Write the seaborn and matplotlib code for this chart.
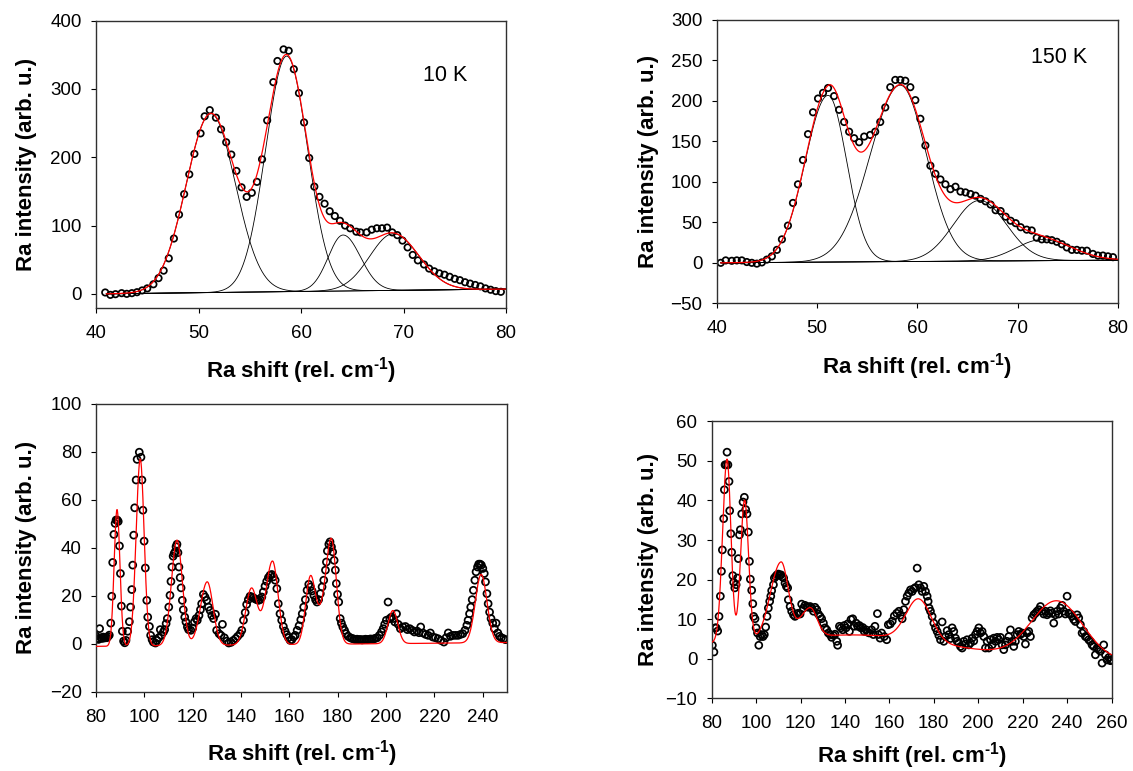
import numpy as np
import pandas as pd
import matplotlib
matplotlib.use("Agg")
import matplotlib.pyplot as plt
import seaborn as sns

sns.set_theme(style="ticks")
plt.rcParams['font.family'] = ['Liberation Sans', 'DejaVu Sans']
plt.rcParams['mathtext.fontset'] = 'custom'
plt.rcParams['mathtext.rm'] = 'Liberation Sans:bold'
plt.rcParams['mathtext.bf'] = 'Liberation Sans:bold'
plt.rcParams['mathtext.it'] = 'Liberation Sans:italic'

# ------------------------------------------------------------------ data
# Top-left panel (10 K), low-frequency region
tl_x = [40.9, 41.4, 41.9, 42.5, 43.0, 43.5, 44.0, 44.5, 45.0, 45.6,
        46.1, 46.6, 47.1, 47.6, 48.1, 48.6, 49.1, 49.6, 50.2, 50.6,
        51.1, 51.7, 52.2, 52.7, 53.2, 53.7, 54.2, 54.7, 55.2, 55.7,
        56.2, 56.7, 57.3, 57.7, 58.3, 58.8, 59.3, 59.8, 60.3, 60.8,
        61.3, 61.8, 62.3, 62.8, 63.3, 63.8, 64.3, 64.8, 65.4, 65.8,
        66.4, 66.9, 67.4, 67.9, 68.4, 68.9, 69.4, 69.9, 70.4, 70.9,
        71.4, 72.0, 72.5, 73.0, 73.5, 74.0, 74.5, 75.0, 75.5, 76.0,
        76.5, 77.0, 77.5, 78.0, 78.5, 79.0, 79.5]
tl_y = [2, -1.5, -0.5, 1, 0, 1, 2.4, 5, 8, 14,
        23, 34, 52, 81, 116, 146, 175, 205, 235, 260,
        269, 258, 241, 222, 204, 180, 156, 142, 148, 164,
        197, 254, 310, 341, 358, 356, 329, 294, 251, 199,
        157, 142, 132, 121, 114, 107, 100, 96, 91, 90,
        90, 94, 96, 96, 97, 90, 86, 78, 68, 57,
        49, 43, 37, 33, 30, 28, 25, 22, 20, 17,
        15, 13, 11, 8, 6, 4, 3]
tl_base_x = [41.0, 80.0]
tl_base_y = [0.0, 7.0]
tl_centers = [51.2, 58.6, 64.1, 69.0]
tl_heights = [262, 345, 82, 83]
tl_wl = [2.4, 2.05, 1.45, 2.3]
tl_wr = [2.4, 2.05, 1.7, 2.5]

# Top-right panel (150 K)
tr_x = [40.4, 40.9, 41.5, 42.0, 42.5, 43.0, 43.5, 44.0, 44.5, 45.0,
        45.5, 46.0, 46.5, 47.1, 47.6, 48.1, 48.6, 49.1, 49.6, 50.1,
        50.6, 51.1, 51.7, 52.2, 52.7, 53.2, 53.7, 54.2, 54.7, 55.3,
        55.8, 56.3, 56.8, 57.3, 57.8, 58.3, 58.8, 59.3, 59.8, 60.3,
        60.8, 61.3, 61.8, 62.3, 62.8, 63.3, 63.8, 64.3, 64.8, 65.3,
        65.8, 66.3, 66.8, 67.3, 67.8, 68.3, 68.8, 69.3, 69.8, 70.3,
        70.9, 71.4, 71.9, 72.4, 72.9, 73.4, 73.9, 74.4, 74.9, 75.4,
        75.9, 76.4, 76.9, 77.5, 78.0, 78.5, 79.0, 79.5]
tr_y = [0, 3, 2.5, 3, 3, 1, 0, -1, 0.5, 4,
        8, 16, 29, 46, 74, 97, 127, 159, 186, 203,
        210, 216, 206, 189, 174, 162, 154, 149, 156, 158,
        162, 174, 192, 217, 226, 226, 225, 217, 201, 178,
        145, 120, 110, 103, 97, 91, 94, 88, 87, 85,
        83, 79, 76, 72, 65, 64, 57, 52, 49, 44,
        41, 40, 31, 29, 29, 28, 26, 23, 19, 16,
        16, 15, 15, 11, 9, 9, 8, 7]
tr_base_x = [40.4, 80.0]
tr_base_y = [0.0, 3.3]
tr_centers = [51.1, 58.3, 66.2, 72.4]
tr_heights = [206, 218, 75, 26]
tr_wl = [2.28, 3.0, 2.6, 2.6]
tr_wr = [1.85, 2.6, 2.66, 3.0]

# Bottom-left panel (10 K), wide range
bl_x = [80.0, 80.5, 81.0, 81.5, 82.0, 82.5, 83.0, 83.5, 84.0, 84.5, 85.0, 85.5,
        86.1, 86.5, 86.9, 87.4, 87.9, 88.3, 88.8, 89.2, 89.7, 90.1,
        90.5, 90.9, 91.4, 91.9, 92.4, 93.1, 93.8, 94.3, 94.8, 95.2,
        95.6, 96.0, 96.6, 97.0, 97.9, 98.6, 99.0, 99.4, 99.9, 100.4,
        101.0, 101.4, 102.1, 102.6, 103.2, 103.7, 104.6, 105.2, 105.9, 106.6,
        107.0, 107.9, 108.4, 109.0, 109.5, 110.1, 110.6, 111.0, 111.4, 111.9,
        112.3, 112.7, 113.1, 113.5, 113.9, 114.3, 114.8, 115.2, 115.7, 116.1,
        116.7, 117.2, 117.8, 118.3, 119.2, 120.0, 120.7, 121.4, 121.9, 122.6,
        123.2, 123.7, 124.4, 125.1, 125.8, 126.5, 127.2, 127.9, 128.6, 129.4,
        129.9, 130.9, 131.7, 132.3, 133.1, 134.1, 134.9, 135.9, 136.8, 137.8,
        138.6, 139.6, 140.3, 141.0, 141.7, 142.3, 143.0, 143.7, 144.4, 145.1,
        145.8, 146.5, 147.2, 147.9, 148.6, 149.2, 149.9, 150.6, 151.3, 152.0,
        152.7, 153.4, 154.1, 154.8, 155.4, 156.1, 156.8, 157.5, 158.2, 158.9,
        159.6, 160.3, 161.0, 161.7, 162.4, 163.2, 164.0, 164.7, 165.3, 165.9,
        166.6, 167.3, 168.0, 168.7, 169.4, 170.1, 170.8, 171.4, 172.1, 172.8,
        173.5, 174.2, 174.9, 175.3, 175.7, 176.3, 176.8, 177.4, 177.9, 178.5,
        179.0, 179.4, 179.9, 180.4, 181.0, 181.5, 182.1, 182.8, 183.4, 184.3,
        185.2, 185.9, 186.6, 187.3, 188.0, 188.7, 189.4, 190.1, 190.8, 191.5,
        192.2, 192.8, 193.5, 194.2, 194.9, 195.6, 196.3, 197.2, 198.1, 198.8,
        199.4, 200.1, 200.8, 201.5, 202.2, 202.9, 203.6, 204.3, 205.0, 205.9,
        206.9, 208.0, 208.8, 209.8, 210.8, 211.7, 212.8, 213.6, 214.3, 215.2,
        216.3, 217.4, 218.3, 219.3, 220.4, 221.5, 222.6, 223.9, 224.8, 225.7,
        226.6, 227.6, 228.7, 229.8, 230.8, 231.7, 232.6, 233.4, 233.9, 234.5,
        235.0, 235.6, 236.1, 236.7, 237.2, 237.8, 238.3, 238.9, 239.4, 240.0,
        240.6, 241.1, 241.7, 242.2, 242.8, 243.4, 244.1, 244.8, 245.5, 246.2,
        246.9, 247.7, 248.6, 249.4]
bl_y = [3.2, 2.2, 1.8, 6.3, 2.5, 2.2, 2.8, 2.4, 2.6, 2.5, 3.0, 3.6,
        8.6, 19.8, 33.9, 45.6, 50.2, 51.6, 51.6, 51.0, 40.8, 29.3,
        15.7, 5.2, 1.1, 0.4, 1.4, 5.2, 9.2, 15.3, 22.6, 32.8,
        45.3, 56.7, 68.3, 76.9, 79.9, 77.8, 68.3, 55.7, 42.8, 31.6,
        18.1, 11.1, 7.2, 3.5, 1.7, 0.7, 0.3, 1.4, 2.5, 5.9,
        3.5, 4.9, 5.9, 8.4, 10.5, 15.3, 20.2, 26.0, 32.0, 36.5,
        37.6, 38.3, 40.5, 41.5, 38.0, 32.0, 27.6, 23.3, 18.1, 14.2,
        11.1, 9.1, 7.0, 5.9, 5.6, 6.5, 9.1, 10.5, 9.8, 11.8,
        14.2, 16.7, 20.6, 19.5, 18.1, 15.3, 13.9, 11.8, 10.5, 12.3,
        5.6, 4.2, 3.5, 8.1, 2.5, 1.1, 0.3, 0.6, 1.4, 2.2,
        3.1, 4.2, 5.6, 9.8, 13.0, 16.4, 18.4, 19.8, 19.5, 19.2,
        18.7, 18.4, 18.1, 18.4, 19.5, 21.6, 24.0, 26.0, 27.6, 28.6,
        28.9, 27.9, 26.5, 23.0, 16.7, 12.5, 9.8, 7.2, 5.3, 3.8,
        2.5, 1.4, 1.7, 2.8, 3.5, 5.6, 7.5, 10.0, 12.5, 15.3,
        18.4, 22.3, 24.8, 23.7, 22.0, 20.2, 18.4, 17.4, 18.4, 20.9,
        23.7, 26.5, 30.7, 34.1, 38.7, 41.5, 42.5, 40.4, 38.3, 34.8,
        30.7, 25.1, 20.6, 17.4, 10.5, 8.6, 7.0, 5.6, 4.2, 3.1,
        2.5, 2.2, 2.0, 1.8, 1.9, 1.7, 1.8, 1.6, 1.7, 1.9,
        1.7, 1.8, 2.0, 1.9, 2.0, 2.3, 2.5, 3.5, 4.9, 6.3,
        8.1, 9.8, 17.4, 10.5, 11.1, 10.5, 9.1, 12.5, 8.1, 6.3,
        7.0, 7.2, 5.9, 6.3, 5.6, 4.9, 5.3, 4.6, 7.0, 4.5,
        3.9, 3.5, 4.5, 2.8, 2.5, 2.1, 1.4, 0.7, 2.5, 4.5,
        3.1, 3.5, 3.5, 3.5, 3.9, 4.2, 5.6, 7.7, 9.8, 12.5,
        15.3, 18.4, 22.3, 26.5, 30.0, 32.0, 33.2, 33.2, 32.8, 31.4,
        29.3, 25.8, 20.9, 16.7, 13.2, 10.5, 8.6, 6.3, 8.6, 4.5,
        3.1, 2.5, 2.1, 1.7]
bl_base_x = [80.0, 250.0]
bl_base_y = [-1.1, 0.5]
bl_centers = [88.7, 98.3, 113.5, 126.0, 144.3, 153.0, 168.7, 172.5, 177.3, 202.8, 239.3]
bl_heights = [57, 78, 44, 26.5, 23.5, 34.9, 28, 6, 44, 13.8, 28.5]
bl_wl = [1.2, 1.7, 2.3, 2.8, 2.4, 2.8, 2.0, 1.8, 2.4, 2.0, 2.4]
bl_wr = [1.2, 1.6, 2.2, 2.4, 2.4, 2.3, 2.0, 1.8, 2.1, 2.0, 2.4]

# Bottom-right panel (150 K), wide range
br_x = [80.3, 81.0, 81.6, 82.0, 82.7, 83.3, 83.9, 84.4, 84.8, 85.4,
        85.7, 86.0, 86.5, 86.9, 87.3, 87.8, 88.1, 88.6, 89.0, 89.5,
        89.9, 90.4, 91.0, 91.6, 92.0, 92.5, 92.9, 93.5, 94.1, 94.7,
        95.3, 95.9, 96.5, 97.0, 97.4, 98.0, 98.5, 98.9, 99.5, 100.0,
        100.6, 101.2, 101.8, 102.5, 103.1, 103.7, 104.3, 104.9, 105.5, 106.1,
        106.6, 107.0, 107.8, 108.2, 108.8, 109.4, 110.0, 110.6, 111.2, 111.8,
        112.4, 113.0, 113.6, 114.2, 114.5, 115.3, 116.0, 116.8, 117.5, 118.3,
        119.0, 119.8, 120.5, 121.3, 122.0, 122.8, 123.5, 124.3, 125.0, 125.8,
        126.5, 127.3, 128.0, 128.8, 129.5, 130.3, 131.0, 131.8, 132.5, 133.3,
        134.0, 134.8, 135.5, 136.3, 136.7, 137.5, 138.2, 139.0, 139.7, 140.5,
        141.2, 142.0, 142.7, 143.5, 144.2, 145.0, 145.7, 146.5, 147.2, 148.0,
        148.7, 149.5, 150.2, 151.0, 152.0, 152.8, 153.5, 154.6, 155.0, 155.8,
        156.5, 157.7, 158.8, 159.5, 160.4, 161.3, 162.2, 163.3, 164.3, 165.0,
        165.75, 166.5, 167.25, 168.0, 168.75, 169.5, 170.25, 171.0, 171.75, 172.5,
        173.25, 174.0, 174.75, 175.5, 176.25, 177.0, 177.45, 177.9, 178.5, 179.25,
        180.0, 180.75, 181.5, 182.25, 183.0, 183.75, 184.5, 185.25, 186.0, 186.75,
        187.5, 188.25, 189.0, 189.75, 190.5, 191.25, 192.0, 192.75, 193.5, 194.25,
        195.0, 195.75, 196.5, 197.25, 198.0, 198.75, 199.5, 200.25, 201.0, 201.75,
        202.5, 203.25, 204.0, 204.75, 205.5, 206.25, 207.0, 207.75, 208.5, 209.25,
        210.0, 210.75, 211.5, 212.25, 213.0, 213.75, 214.5, 215.25, 216.0, 216.75,
        217.5, 218.25, 219.0, 219.75, 220.5, 221.25, 222.0, 222.75, 223.5, 224.25,
        225.0, 225.75, 226.5, 227.25, 228.0, 228.75, 229.5, 230.25, 231.0, 231.75,
        232.5, 233.25, 234.0, 234.75, 235.5, 236.25, 237.0, 237.75, 238.5, 239.25,
        240.0, 240.75, 241.5, 242.25, 243.0, 243.75, 244.5, 245.25, 246.0, 246.75,
        247.5, 248.25, 249.0, 249.75, 250.5, 251.25, 252.0, 252.75, 253.5, 254.25,
        255.0, 255.75, 256.5, 257.25, 258.0, 258.75, 259.5, 260.0]
br_y = [3.4, 1.7, 7.8, 7.8, 7.0, 10.7, 15.8, 22.1, 27.5, 35.4,
        42.7, 49.0, 49.0, 52.2, 49.0, 44.8, 37.4, 31.6, 26.9, 21.0,
        19.3, 17.9, 18.7, 20.4, 25.3, 31.3, 32.6, 36.6, 39.6, 40.8,
        37.7, 36.6, 32.0, 24.6, 20.1, 17.3, 13.9, 10.7, 10.1, 7.8,
        6.5, 3.4, 5.6, 6.1, 5.6, 6.1, 8.0, 10.7, 12.8, 14.5,
        15.8, 17.2, 18.7, 20.4, 20.8, 21.2, 21.4, 21.1, 21.2, 20.7,
        20.4, 19.1, 18.3, 17.9, 14.9, 13.2, 12.0, 11.1, 10.7, 11.3,
        11.5, 11.3, 13.8, 12.8, 13.5, 13.2, 13.0, 13.2, 12.8, 12.0,
        13.0, 12.4, 11.3, 10.7, 10.1, 9.0, 7.8, 7.3, 6.5, 6.1,
        5.4, 5.9, 6.2, 4.4, 3.4, 8.2, 7.8, 7.3, 8.4, 7.8,
        8.8, 6.9, 9.9, 10.1, 8.2, 9.0, 8.2, 8.4, 7.8, 7.9,
        6.9, 7.3, 6.7, 6.5, 7.3, 6.1, 8.2, 11.4, 6.1, 5.2,
        6.5, 5.6, 4.8, 8.6, 8.8, 9.5, 10.8, 11.5, 12.0, 11.0,
        10.1, 12.4, 14.5, 15.8, 16.6, 17.4, 17.0, 17.7, 18.0, 22.9,
        18.7, 17.9, 17.0, 18.3, 17.0, 15.8, 14.5, 12.8, 12.0, 10.7,
        9.0, 7.8, 6.9, 5.9, 4.8, 9.3, 4.4, 5.6, 7.1, 6.1,
        5.1, 7.8, 6.9, 5.2, 4.4, 4.0, 3.1, 2.7, 4.4, 3.7,
        4.8, 3.5, 4.0, 5.2, 4.5, 6.1, 6.9, 7.8, 6.5, 6.9,
        5.6, 2.7, 4.4, 2.7, 4.8, 3.5, 5.2, 4.4, 5.4, 4.8,
        5.4, 3.5, 2.3, 3.5, 4.4, 5.6, 7.3, 4.4, 3.1, 4.4,
        6.1, 6.9, 6.1, 6.5, 5.6, 3.7, 6.5, 6.9, 5.6, 10.3,
        11.1, 11.5, 12.0, 12.4, 13.2, 12.0, 11.3, 12.0, 11.1, 11.5,
        12.1, 11.5, 9.0, 11.1, 12.0, 11.3, 12.8, 13.5, 12.0, 11.3,
        15.8, 11.5, 11.3, 10.7, 9.9, 9.4, 11.1, 10.3, 8.6, 6.5,
        6.9, 5.6, 5.4, 4.8, 4.4, 3.5, 3.1, 1.0, 2.7, 2.3,
        1.9, -1.1, 3.5, 1.0, -0.3, 0.3, -0.5, -0.3]
br_base_x = [80.0, 260.0]
br_base_y = [3.5, -0.5]
br_centers = [86.9, 94.8, 111.2, 124.3, 150.0, 173.2, 235.5]
br_heights = [46.3, 35.7, 19.4, 7.35, 4.0, 10.5, 14.4]
br_wl = [2.0, 1.8, 4.8, 4.5, 35.0, 5.65, 11.5]
br_wr = [1.75, 1.8, 3.3, 3.1, 35.0, 5.65, 11.5]

# axis settings
tl_xlim, tl_ylim, tl_xticks, tl_yticks = (40, 80), (-20, 400), [40, 50, 60, 70, 80], [0, 100, 200, 300, 400]
tr_xlim, tr_ylim, tr_xticks, tr_yticks = (40, 80), (-50, 300), [40, 50, 60, 70, 80], [-50, 0, 50, 100, 150, 200, 250, 300]
bl_xlim, bl_ylim, bl_xticks, bl_yticks = (80, 250), (-20, 100), [80, 100, 120, 140, 160, 180, 200, 220, 240], [-20, 0, 20, 40, 60, 80, 100]
br_xlim, br_ylim, br_xticks, br_yticks = (80, 260), (-10, 60), [80, 100, 120, 140, 160, 180, 200, 220, 240, 260], [-10, 0, 10, 20, 30, 40, 50, 60]

xlabel_text = r"Ra shift (rel. cm$^{\text{-1}}$)"
ylabel_text = "Ra intensity (arb. u.)"


# ------------------------------------------------------------------ helpers
def peak(x, c, h, wl, wr):
    w = np.where(x < c, wl, wr)
    return h * np.exp(-0.5 * ((x - c) / w) ** 2)


def build_model(lo, hi, base_x, base_y, centers, heights, wl, wr):
    grid = np.linspace(lo, hi, 2000)
    base = np.interp(grid, base_x, base_y)
    comps = [peak(grid, c, h, a, b) for c, h, a, b in zip(centers, heights, wl, wr)]
    total = base + np.sum(comps, axis=0)
    return grid, base, comps, total


W, H = 1133, 771
fig = plt.figure(figsize=(W / 100, H / 100), dpi=100)


def add_ax(left, top, right, bottom):
    return fig.add_axes([left / W, 1 - bottom / H, (right - left) / W, (bottom - top) / H])


panels = [
    dict(rect=(96, 20.7, 506, 307.5), x=tl_x, y=tl_y, bx=tl_base_x, by=tl_base_y,
         c=tl_centers, h=tl_heights, wl=tl_wl, wr=tl_wr, comps=True,
         xlim=tl_xlim, ylim=tl_ylim, xt=tl_xticks, yt=tl_yticks,
         ylab=(-0.143, 0.5), xlab=(0.5, -0.166), ann=("10 K", 0.851, 0.81), ms=4.6),
    dict(rect=(716.7, 20.0, 1118, 303.3), x=tr_x, y=tr_y, bx=tr_base_x, by=tr_base_y,
         c=tr_centers, h=tr_heights, wl=tr_wl, wr=tr_wr, comps=True,
         xlim=tr_xlim, ylim=tr_ylim, xt=tr_xticks, yt=tr_yticks,
         ylab=(-0.143, 0.5), xlab=(0.5, -0.168), ann=("150 K", 0.853, 0.866), ms=4.6),
    dict(rect=(96, 404, 507, 691.7), x=bl_x, y=bl_y, bx=bl_base_x, by=bl_base_y,
         c=bl_centers, h=bl_heights, wl=bl_wl, wr=bl_wr, comps=False,
         xlim=bl_xlim, ylim=bl_ylim, xt=bl_xticks, yt=bl_yticks,
         ylab=(-0.143, 0.5), xlab=(0.5, -0.163), ann=None, ms=5.0),
    dict(rect=(711.7, 421.3, 1111.5, 698.3), x=br_x, y=br_y, bx=br_base_x, by=br_base_y,
         c=br_centers, h=br_heights, wl=br_wl, wr=br_wr, comps=False,
         xlim=br_xlim, ylim=br_ylim, xt=br_xticks, yt=br_yticks,
         ylab=(-0.132, 0.5), xlab=(0.5, -0.152), ann=None, ms=5.0),
]

for p in panels:
    ax = add_ax(*p["rect"])
    lo, hi = p["bx"][0], p["bx"][-1]
    grid, base, comps, total = build_model(lo, hi, p["bx"], p["by"], p["c"], p["h"], p["wl"], p["wr"])

    if p["comps"]:
        sns.lineplot(x=grid, y=base, ax=ax, color="black", linewidth=0.6,
                     estimator=None, sort=False, zorder=1)
        for comp in comps:
            sns.lineplot(x=grid, y=base + comp, ax=ax, color="black", linewidth=0.6,
                         estimator=None, sort=False, zorder=1)

    df = pd.DataFrame({"x": p["x"], "y": p["y"]})
    sns.scatterplot(data=df, x="x", y="y", ax=ax, marker="o", s=p["ms"] ** 2,
                    facecolor="none", edgecolor="black", linewidth=1.25, zorder=2)

    sns.lineplot(x=grid, y=total, ax=ax, color="red", linewidth=0.9,
                 estimator=None, sort=False, zorder=3)

    ax.set_xlim(*p["xlim"])
    ax.set_ylim(*p["ylim"])
    ax.set_xticks(p["xt"])
    ax.set_yticks(p["yt"])
    ax.tick_params(axis="both", direction="out", length=3.3, width=0.8,
                   labelsize=13.5, colors="black")
    ax.tick_params(axis="y", pad=7)
    ax.tick_params(axis="x", pad=9)
    for side in ["left", "bottom", "top", "right"]:
        ax.spines[side].set_visible(True)
        ax.spines[side].set_linewidth(1.0)
        ax.spines[side].set_color("#303030")

    ax.set_ylabel(ylabel_text, fontsize=16, fontweight="bold", color="black")
    ax.set_xlabel(xlabel_text, fontsize=16, fontweight="bold", color="black")
    ax.yaxis.set_label_coords(*p["ylab"])
    ax.xaxis.set_label_coords(*p["xlab"])

    if p["ann"] is not None:
        txt, ax_x, ax_y = p["ann"]
        ax.text(ax_x, ax_y, txt, transform=ax.transAxes, ha="center", va="center",
                fontsize=15.5, color="black")

fig.savefig("out.png", dpi=100, facecolor="white")
